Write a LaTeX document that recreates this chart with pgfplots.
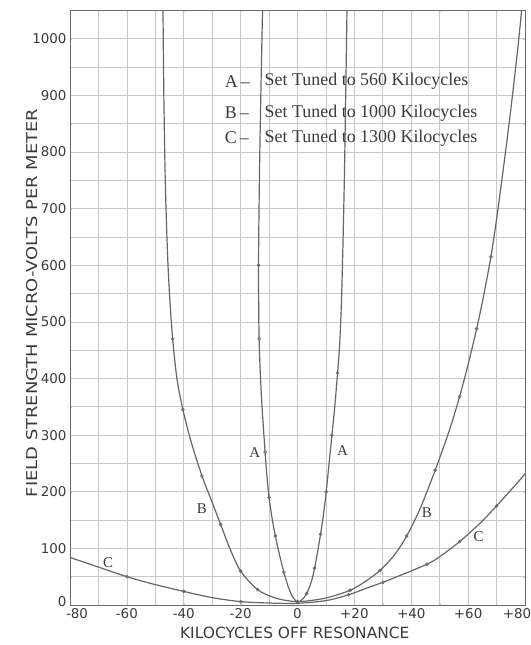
\documentclass[border=0pt]{standalone}
\usepackage{fontspec}
\setmainfont{Liberation Serif}
\newfontfamily\tickfont{DejaVu Sans}
\newfontfamily\ylabfont[FakeStretch=1.2]{DejaVu Sans}
\usepackage{pgfplots}
\pgfplotsset{compat=1.18}
\definecolor{curve}{HTML}{666666}
\definecolor{gridc}{HTML}{C8C8C8}
\definecolor{ink}{HTML}{3A3A3A}
\pgfplotsset{kc curve/.style={draw=curve, line width=1.2bp, smooth, tension=0.5,
    mark=o, mark size=1.5pt, mark options={line width=0.6bp, draw=curve, fill=white}}}

\begin{document}
\begin{tikzpicture}
\begin{axis}[
  at={(0,0)}, anchor=south west,
  width=455bp, height=594.5bp, scale only axis,
  xmin=-80, xmax=80, ymin=0, ymax=1050,
  xtick={-80,-60,-40,-20,0,20,40,60,80},
  xticklabels={\makebox[0pt]{\hspace{14bp}-80},-60,-40,-20,0,+20,+40,+60,\makebox[0pt]{\hspace{-16bp}+80}},
  ytick={0,100,200,300,400,500,600,700,800,900,1000},
  yticklabels={\raisebox{6bp}{0},100,200,300,400,500,600,700,800,900,1000},
  minor xtick={-70,-50,-30,-10,10,30,50,70},
  minor ytick={50,150,250,350,450,550,650,750,850,950,1050},
  xmajorgrids, ymajorgrids, xminorgrids, yminorgrids,
  major grid style={draw=gridc, line width=0.7bp},
  minor grid style={draw=gridc, line width=0.7bp},
  tick style={draw=gridc},
  major tick length=2bp, minor tick length=2bp,
  axis line style={draw=ink!75, line width=0.9bp},
  tick label style={font=\tickfont\fontsize{13.5}{14}\selectfont, text=ink},
  xlabel={KILOCYCLES OFF RESONANCE},
  xlabel style={font=\tickfont\fontsize{15.5}{16}\selectfont, text=ink,
    at={(axis description cs:0.494,-0.047)}, anchor=center},
  ylabel={FIELD STRENGTH MICRO-VOLTS PER METER},
  ylabel style={font=\ylabfont\fontsize{15}{16}\selectfont, text=ink,
    at={(axis description cs:-0.084,0.508)}, anchor=center},
]
% A - set tuned to 560 kc
\addplot[kc curve, mark indices={4,5,7,9,11,13,16,18,20,22,24,26,28}] coordinates {
  (-12.3,1050) (-12.9,900) (-13.4,750) (-13.7,600) (-13.5,470) (-12.7,370)
  (-11.4,270) (-10.7,225) (-10.0,190) (-9.0,155) (-7.8,122) (-6.3,88)
  (-4.8,58) (-3.3,33) (-1.9,16) (0,5)
  (1.7,10) (3.2,20) (4.8,40) (6.0,65) (7.1,95) (8.1,125) (9.0,155)
  (10.1,200) (11.1,250) (12.1,300) (13.1,350) (14.1,410) (14.7,450)
  (15.2,500) (15.6,560) (16.0,640) (16.5,760) (16.95,900) (17.4,1050)
};
% B - set tuned to 1000 kc
\addplot[kc curve, mark indices={6,8,10,12,14,15,17,19,21,23,25,27,29,31}] coordinates {
  (-47.3,1050) (-47.0,900) (-46.5,750) (-45.7,620) (-44.9,540) (-43.9,470)
  (-42.4,400) (-40.3,345) (-37.5,290) (-33.6,228) (-30.3,185) (-27.0,142)
  (-23.8,100) (-20.0,60) (-14.0,27) (-7.5,12) (0,6)
  (9.7,12) (18.5,26) (24,42) (29,61) (34,88) (38.4,122) (43.1,170)
  (48.4,238) (53.5,310) (57,368) (60,425) (63,488) (65.4,545) (68,615)
  (70.1,685) (72.5,775) (75,875) (77.5,985) (78.8,1050)
};
% C - set tuned to 1300 kc
\addplot[kc curve, mark indices={3,5,7,11,13,15,17,19}] coordinates {
  (-80,84) (-70,67) (-60,50) (-50,36) (-40,24) (-30,13) (-20,6) (-10,3.5)
  (0,3) (10.3,8) (17.9,18) (25,31) (30,40) (35,50) (45.5,72) (50.2,86)
  (57,112) (64.3,145) (70,175) (77.7,218) (80,232)
};
% curve labels
\begin{scope}[every node/.style={font=\fontsize{15}{16}\selectfont, text=ink, inner sep=0pt}]
\node at (axis cs:-15.0,270) {A};
\node at (axis cs:15.8,272) {A};
\node at (axis cs:-33.6,171) {B};
\node at (axis cs:45.5,163) {B};
\node at (axis cs:-66.6,74) {C};
\node at (axis cs:63.7,121) {C};
\end{scope}
% key
\begin{scope}[every node/.style={font=\fontsize{18}{19}\selectfont, text=ink, inner sep=0pt, anchor=west}]
\node at (axis cs:-25.6,925) {A\,--};
\node at (axis cs:-11.6,925) {Set Tuned to 560 Kilocycles};
\node at (axis cs:-25.6,869) {B\,--};
\node at (axis cs:-11.6,869) {Set Tuned to 1000 Kilocycles};
\node at (axis cs:-25.6,825) {C\,--};
\node at (axis cs:-11.6,825) {Set Tuned to 1300 Kilocycles};
\end{scope}
\end{axis}
\pgfresetboundingbox
\path[use as bounding box] (-70bp,-40bp) rectangle (461bp,605bp);
\end{tikzpicture}
\end{document}
